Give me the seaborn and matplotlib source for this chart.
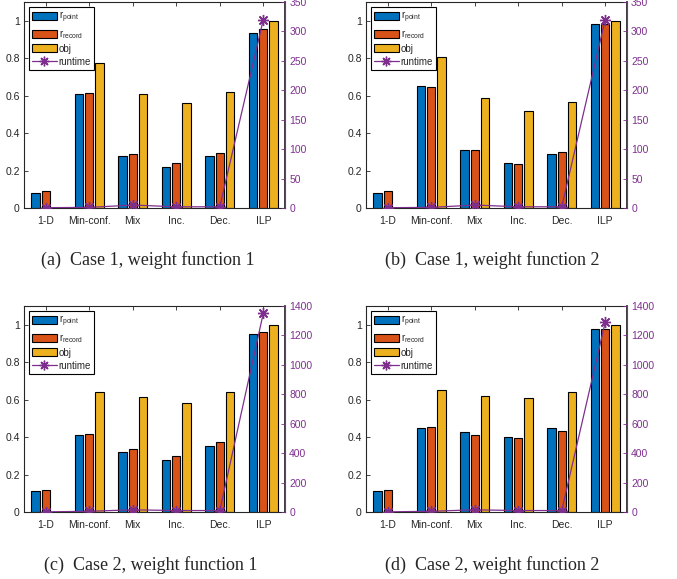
import numpy as np
import pandas as pd
import seaborn as sns
import matplotlib.pyplot as plt
from matplotlib.lines import Line2D
from matplotlib.patches import Patch

# categories and series
methods = ['1-D', 'Min-conf.', 'Mix', 'Inc.', 'Dec.', 'ILP']
series = ['r_point', 'r_record', 'obj']
series_labels = [r'r$_{\mathrm{point}}$', r'r$_{\mathrm{record}}$', 'obj']

# (a) case 1, weight function 1
a_point = [0.08, 0.61, 0.275, 0.22, 0.275, 0.935]
a_record = [0.09, 0.615, 0.29, 0.24, 0.295, 0.955]
a_obj = [0.0, 0.775, 0.61, 0.56, 0.62, 1.0]
a_runtime = [0.5, 1.0, 5.0, 2.0, 2.0, 320]

# (b) case 1, weight function 2
b_point = [0.08, 0.65, 0.31, 0.24, 0.29, 0.98]
b_record = [0.09, 0.645, 0.31, 0.235, 0.30, 0.985]
b_obj = [0.0, 0.805, 0.585, 0.52, 0.565, 1.0]
b_runtime = [0.5, 1.0, 5.0, 2.0, 2.0, 320]

# (c) case 2, weight function 1
c_point = [0.11, 0.41, 0.32, 0.28, 0.35, 0.95]
c_record = [0.115, 0.415, 0.335, 0.30, 0.375, 0.96]
c_obj = [0.0, 0.64, 0.615, 0.58, 0.64, 1.0]
c_runtime = [1.0, 5.0, 15.0, 10.0, 10.0, 1350]

# (d) case 2, weight function 2
d_point = [0.11, 0.45, 0.425, 0.40, 0.447, 0.978]
d_record = [0.115, 0.452, 0.412, 0.393, 0.432, 0.978]
d_obj = [0.0, 0.65, 0.62, 0.61, 0.64, 1.0]
d_runtime = [1.0, 5.0, 15.0, 10.0, 10.0, 1290]

captions = ['(a)  Case 1, weight function 1', '(b)  Case 1, weight function 2',
            '(c)  Case 2, weight function 1', '(d)  Case 2, weight function 2']

bar_colors = ['#0072BD', '#D95319', '#EDB120']
purple = '#7E2F8E'
axis_gray = '#262626'
asterisk = (8, 2, 0)  # matlab-style '*' marker

sns.set_theme(style='white')
plt.rcParams['font.family'] = ['Liberation Sans', 'DejaVu Sans']
plt.rcParams['mathtext.fontset'] = 'custom'
plt.rcParams['mathtext.rm'] = 'Liberation Sans'
plt.rcParams['mathtext.it'] = 'Liberation Sans'
plt.rcParams['xtick.direction'] = 'in'
plt.rcParams['ytick.direction'] = 'in'

fig = plt.figure(figsize=(6.77, 5.79), dpi=100)

panels = [
    (a_point, a_record, a_obj, a_runtime, 350, 50),
    (b_point, b_record, b_obj, b_runtime, 350, 50),
    (c_point, c_record, c_obj, c_runtime, 1400, 200),
    (d_point, d_record, d_obj, d_runtime, 1400, 200),
]
# axes rectangles [left, bottom, width, height] in figure fractions
rects = [
    [0.0355, 0.6408, 0.3855, 0.3558],
    [0.5406, 0.6408, 0.3855, 0.3558],
    [0.0355, 0.1157, 0.3855, 0.3558],
    [0.5406, 0.1157, 0.3855, 0.3558],
]
caption_pos = [(0.218, 0.551), (0.727, 0.551), (0.222, 0.024), (0.727, 0.024)]

for (pt, rec, obj, rt, rmax, rstep), rect, cap, cpos in zip(panels, rects, captions, caption_pos):
    df = pd.DataFrame({'method': methods, 'r_point': pt, 'r_record': rec, 'obj': obj})
    long = df.melt(id_vars='method', var_name='series', value_name='value')

    ax = fig.add_axes(rect)
    sns.barplot(data=long, x='method', y='value', hue='series', order=methods,
                hue_order=series, palette=bar_colors, saturation=1, width=0.7,
                gap=0.18, edgecolor='black', linewidth=0.8, legend=False, ax=ax)
    ax.set_xlim(-0.5, 5.5)
    ax.set_ylim(0, 1.1)
    ax.set_yticks([0, 0.2, 0.4, 0.6, 0.8, 1.0])
    ax.set_yticklabels(['0', '0.2', '0.4', '0.6', '0.8', '1'])
    ax.set_xlabel('')
    ax.set_ylabel('')
    ax.tick_params(axis='both', labelsize=7.5, colors=axis_gray, length=3, width=0.6,
                   top=True, pad=3)
    ax.tick_params(axis='x', pad=6)
    for side in ['left', 'bottom', 'top']:
        ax.spines[side].set_color(axis_gray)
        ax.spines[side].set_linewidth(0.8)

    ax2 = ax.twinx()
    sns.lineplot(x=np.arange(len(methods)), y=rt, ax=ax2, color=purple, marker=asterisk,
                 markersize=8, markeredgecolor=purple, markeredgewidth=1.0, linewidth=0.9)
    ax2.set_xlim(-0.5, 5.5)
    ax2.set_ylim(0, rmax)
    ax2.set_yticks(np.arange(0, rmax + 1, rstep))
    ax2.set_ylabel('')
    ax2.tick_params(axis='y', labelsize=7.5, colors=purple, length=3, width=0.6, pad=3)
    ax2.spines['right'].set_color(purple)
    ax2.spines['right'].set_linewidth(0.8)
    for side in ['left', 'bottom', 'top']:
        ax2.spines[side].set_visible(False)

    handles = [Patch(facecolor=c, edgecolor='black', linewidth=0.8, label=l)
               for c, l in zip(bar_colors, series_labels)]
    handles.append(Line2D([0], [0], color=purple, marker=asterisk, markersize=7,
                          markeredgewidth=1.0, linewidth=0.9, label='runtime'))
    leg = ax2.legend(handles=handles, loc='upper left', fontsize=7, frameon=True,
                     fancybox=False, edgecolor='black', framealpha=1,
                     handlelength=2.6, handleheight=0.9, handletextpad=0.15,
                     labelspacing=0.3, borderpad=0.3, borderaxespad=0.5)
    leg.get_frame().set_linewidth(0.8)

    fig.text(cpos[0], cpos[1], cap, family=['Liberation Serif', 'DejaVu Serif'],
             fontsize=13, ha='center', va='center')

fig.savefig('out.png', dpi=100)
